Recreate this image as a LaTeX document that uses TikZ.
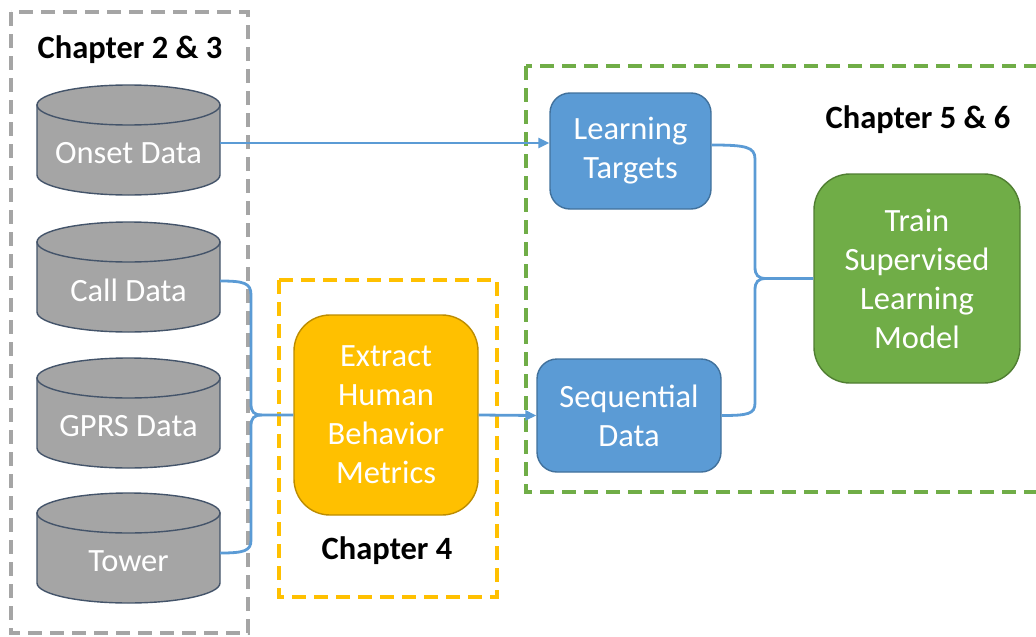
\documentclass[tikz,border=0pt]{standalone}
\usepackage{fontspec}
\setmainfont{Carlito}
\usetikzlibrary{arrows.meta}
\definecolor{cylgray}{HTML}{A5A5A5}
\definecolor{cylline}{HTML}{44546A}
\definecolor{bluefill}{HTML}{5B9BD5}
\definecolor{blueline}{HTML}{41719C}
\definecolor{goldfill}{HTML}{FFC000}
\definecolor{goldline}{HTML}{BC8C00}
\definecolor{greenfill}{HTML}{70AD47}
\definecolor{greenline}{HTML}{507E32}
\tikzset{
  every node/.style={font=\fontsize{32.5}{39}\selectfont},
  cylbody/.style={fill=cylgray, draw=cylline, line width=1.4pt},
  cyltext/.style={text=white, inner sep=0pt, minimum width=183pt},
  bluebox/.style={rounded corners=20pt, fill=bluefill, draw=blueline, line width=1.4pt,
    text=white, align=center, inner sep=0pt},
  bigbox/.style={rounded corners=36pt, line width=1.4pt, text=white, align=center, inner sep=0pt},
  chapterbox/.style={line width=3.4pt, dash pattern=on 14pt off 8pt},
  chapter/.style={font=\fontsize{32.5}{39}\selectfont\bfseries, text=black},
  conn/.style={draw=bluefill, line width=2.8pt},
  arr/.style={conn, -{Triangle[length=11pt,width=10pt]}},
}
% database drum with its top edge at #1
\newcommand{\dbdrum}[3]{%
  \draw[cylbody] (37,#1+20) -- (37,#1+90)
    arc[start angle=180, end angle=0, x radius=91.5, y radius=20]
    -- (220,#1+20) -- cycle;
  \draw[cylbody] (128.5,#1+20) ellipse[x radius=91.5, y radius=20];
  \node[cyltext] (#2) at (128.5,#1+68) {#3};
}
\begin{document}
\begin{tikzpicture}[x=1pt, y=-1pt]
\useasboundingbox (0,0) rectangle (1036,637);
\clip (0,0) rectangle (1036,637);

% chapter frames
\draw[chapterbox, draw=cylgray] (11,12) rectangle (248,633);
\draw[chapterbox, draw=goldfill] (279,280) rectangle (497,597);
\draw[chapterbox, draw=greenfill] (526,66) rectangle (1060,492);

\node[chapter] (ch23) at (130,50) {Chapter 2 \& 3};
\node[chapter] (ch4) at (387,551) {Chapter 4};
\node[chapter] (ch56) at (918,120) {Chapter 5 \& 6};

% data sources
\dbdrum{85}{onset}{Onset Data}
\dbdrum{222}{call}{Call Data}
\dbdrum{358}{gprs}{GPRS Data}
\dbdrum{493}{tower}{Tower}

% processing steps
\node[bigbox, fill=goldfill, draw=goldline, minimum width=184pt, minimum height=200pt]
  (extract) at (386,415) {Extract\\Human\\Behavior\\Metrics};
\node[bluebox, minimum width=161pt, minimum height=116pt]
  (targets) at (630.5,151) {Learning\\Targets};
\node[bluebox, minimum width=184pt, minimum height=113pt]
  (seq) at (629,415.5) {Sequential\\Data};
\node[bigbox, fill=greenfill, draw=greenline, minimum width=206pt, minimum height=209pt]
  (train) at (917,278.5) {Train\\Supervised\\Learning\\Model};

% connectors
\coordinate (onsetout) at ([yshift=10pt]onset.east);
\draw[arr] (onsetout) -- (onsetout -| targets.west);

\coordinate (callout) at ([yshift=9pt]call.east);
\coordinate (towerout) at ([yshift=8pt]tower.east);
\coordinate (jleft) at (262,415);
\draw[conn] (callout) .. controls (244,281) and (251,283) .. (251,295)
  -- (251,404) .. controls (251,412) and (254,415) .. (jleft) -- (extract.west);
\draw[conn] (towerout) .. controls (244,553) and (251,551) .. (251,540)
  -- (251,426) .. controls (251,418) and (254,415) .. (jleft);

\draw[arr] (extract.east) -- (seq.west);

\coordinate (tout) at ([yshift=6pt]targets.east);
\coordinate (jright) at (766,278.5);
\draw[conn] (tout) .. controls (746,145) and (755,147) .. (755,159)
  -- (755,267) .. controls (755,275) and (758,278.5) .. (jright) -- (train.west);
\draw[conn] (seq.east) .. controls (748,415.5) and (755,414) .. (755,403)
  -- (755,290) .. controls (755,282) and (758,278.5) .. (jright);
\end{tikzpicture}
\end{document}
